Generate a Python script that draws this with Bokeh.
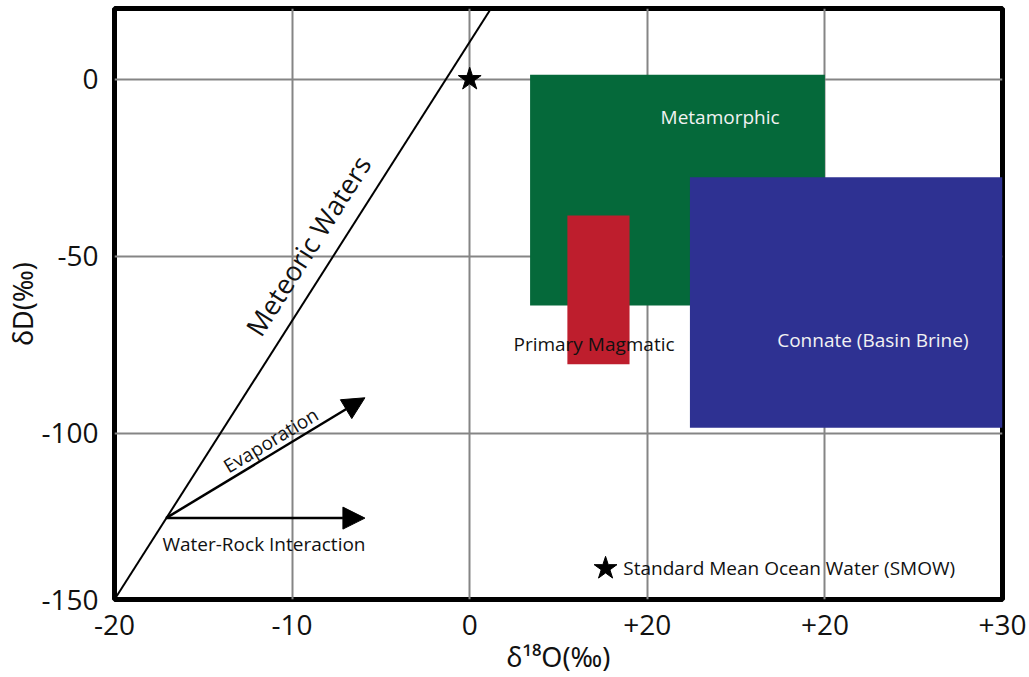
from bokeh.plotting import figure
from bokeh.models import Range1d, FixedTicker, Arrow, NormalHead, ColumnDataSource
from bokeh.core.properties import value
from bokeh.embed import file_html
from bokeh.resources import INLINE

# ---------------- data ----------------
x_ticks = [-20, -10, 0, 10, 20, 30]
x_tick_labels = ["-20", "-10", "0", "+20", "+20", "+30"]
y_ticks = [-147, -100, -50, 0]
y_tick_labels = ["-150", "-100", "-50", "0"]

field_names = ["Metamorphic", "Connate (Basin Brine)", "Primary Magmatic"]
field_left = [3.4, 12.4, 5.5]
field_right = [20.0, 30.0, 9.0]
field_bottom = [-63.9, -98.5, -80.5]
field_top = [1.3, -27.7, -38.5]
field_colors = ["#05693A", "#2E3192", "#BE1E2D"]

label_x = [14.1, 22.7, 7.0]
label_y = [-10.8, -73.6, -74.7]
label_colors = ["#F2F2F2", "#F2F2F2", "#111111"]

meteoric_x = [-20.0, 1.2]
meteoric_y = [-147.0, 20.0]
meteoric_label = ["Meteoric Waters"]
meteoric_label_x = [-9.1]
meteoric_label_y = [-47.0]

arrow_names = ["Evaporation", "Water-Rock Interaction"]
arrow_x0 = [-17.1, -17.1]
arrow_y0 = [-124.0, -124.0]
arrow_x1 = [-5.9, -5.9]
arrow_y1 = [-90.0, -124.0]
arrow_label_x = [-11.2, -17.3]
arrow_label_y = [-102.0, -131.2]

smow_x = [0.0]
smow_y = [0.0]
smow_key_x = [7.65]
smow_key_y = [-138.2]
smow_text = ["Standard Mean Ocean Water (SMOW)"]

FONT = "Open Sans"

# ---------------- figure ----------------
p = figure(width=1029, height=677, output_backend="svg", toolbar_location=None,
           x_range=Range1d(-20, 30), y_range=Range1d(-147, 20),
           min_border_left=114, min_border_right=27, min_border_top=8, min_border_bottom=78)
p.background_fill_color = "white"
p.border_fill_color = "white"
p.outline_line_color = "black"
p.outline_line_width = 5

p.xaxis.ticker = FixedTicker(ticks=x_ticks)
p.yaxis.ticker = FixedTicker(ticks=y_ticks)
p.xaxis.major_label_overrides = {t: l for t, l in zip(x_ticks, x_tick_labels)}
p.yaxis.major_label_overrides = {t: l for t, l in zip(y_ticks, y_tick_labels)}

for ax in (p.xaxis, p.yaxis):
    ax.axis_line_color = None
    ax.major_tick_line_color = None
    ax.minor_tick_line_color = None
    ax.major_tick_out = 0
    ax.major_tick_in = 0
    ax.minor_tick_out = 0
    ax.minor_tick_in = 0
    ax.major_label_text_font = FONT
    ax.major_label_text_font_size = "28px"
    ax.major_label_text_color = "#111111"
    ax.axis_label_text_font = "Noto Sans"
    ax.axis_label_text_font_size = "27px"
    ax.axis_label_text_font_style = "normal"
    ax.axis_label_text_color = "#111111"

p.xaxis.axis_label = "δ¹⁸O(‰)"
p.yaxis.axis_label = "δD(‰)"
p.xaxis.major_label_standoff = 15
p.yaxis.major_label_standoff = 16
p.xaxis.axis_label_standoff = 0
p.yaxis.axis_label_standoff = -3

p.grid.grid_line_color = "#858585"
p.grid.grid_line_width = 2

# fields
fsrc = ColumnDataSource(dict(left=field_left, right=field_right, bottom=field_bottom,
                             top=field_top, color=field_colors))
p.quad(left="left", right="right", bottom="bottom", top="top", fill_color="color",
       line_color=None, source=fsrc)

lsrc = ColumnDataSource(dict(x=label_x, y=label_y, text=field_names, color=label_colors))
p.text(x="x", y="y", text="text", text_color="color", text_font=value(FONT),
       text_font_size="19px", text_align="center", text_baseline="middle", source=lsrc)

# meteoric water line
p.line(meteoric_x, meteoric_y, line_color="black", line_width=2)
p.text(x=meteoric_label_x, y=meteoric_label_y, text=meteoric_label, angle=57.5,
       angle_units="deg", text_font=value(FONT), text_font_size="27px",
       text_color="#111111", text_align="center", text_baseline="middle")

# arrows
asrc = ColumnDataSource(dict(x0=arrow_x0, y0=arrow_y0, x1=arrow_x1, y1=arrow_y1))
p.add_layout(Arrow(end=NormalHead(size=22, fill_color="black", line_color="black"),
                   x_start="x0", y_start="y0", x_end="x1", y_end="y1",
                   line_color="black", line_width=2.5, source=asrc))
p.text(x=arrow_label_x[:1], y=arrow_label_y[:1], text=arrow_names[:1], angle=31.1,
       angle_units="deg", text_font=value(FONT), text_font_size="19px",
       text_color="#111111", text_align="center", text_baseline="middle")
p.text(x=arrow_label_x[1:], y=arrow_label_y[1:], text=arrow_names[1:],
       text_font=value(FONT), text_font_size="19px", text_color="#111111",
       text_align="left", text_baseline="middle")

# SMOW
p.scatter(smow_x, smow_y, marker="star", size=24, color="black")
p.scatter(smow_key_x, smow_key_y, marker="star", size=24, color="black")
p.text(x=[smow_key_x[0] + 1.0], y=smow_key_y, text=smow_text, text_font=value(FONT),
       text_font_size="19px", text_color="#111111", text_align="left", text_baseline="middle")

open("out.html", "w").write(file_html(p, INLINE))
